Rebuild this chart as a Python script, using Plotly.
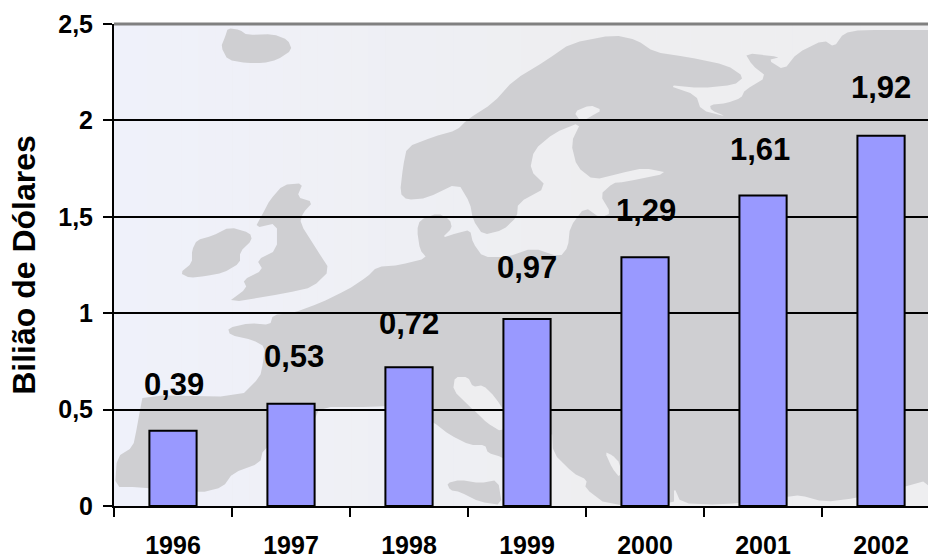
import plotly.graph_objects as go

# Chart data
years = ["1996", "1997", "1998", "1999", "2000", "2001", "2002"]
billions = [0.39, 0.53, 0.72, 0.97, 1.29, 1.61, 1.92]
y_ticks = [0, 0.5, 1, 1.5, 2, 2.5]
y_tick_labels = ["0", "0,5", "1", "1,5", "2", "2,5"]
y_title = "Bilião de Dólares"

WIDTH, HEIGHT = 928, 558
M_LEFT, M_TOP, M_BOTTOM = 114, 24, 52
FONT = "Liberation Sans, Arial, sans-serif"
LAND = "#cfcfd2"
SEA = "#eeeef0"

# Hand-placed nudges for the value labels, in pixels
LABEL_DX = [1, 3, 0, 0, 1, -3, 0]
LABEL_DY = [46, 47, 44, 51, 47, 46, 48]

# Backdrop map outlines, in page pixels
ICELAND = [(228,28),(240,30),(247,35),(273,34),(288,40),(292,50),(277,60),(263,63),
           (247,63),(228,60),(221,47),(225,37)]
IRELAND = [(197,240),(212,236),(230,227),(250,233),(252,240),(240,252),(240,263),(223,273),
           (205,276),(190,278),(180,273),(192,263),(192,250)]
BRITAIN = [(283,185),(303,183),(297,197),(313,202),(303,213),(300,223),(317,250),(330,270),
           (313,287),(287,293),(227,303),(247,288),(243,280),(263,270),(257,260),(277,250),
           (277,223),(255,228),(263,213),(270,200)]
MAINLAND = [(928,30),(861,30),(844,33),(834,47),(824,40),(797,53),(784,70),(768,60),(781,57),
            (745,53),(752,65),(767,77),(745,90),(741,98),(727,103),(710,105),(711,110),(727,117),
            (701,110),(696,95),(667,85),(701,88),(734,85),(744,77),(727,65),(687,57),(654,52),
            (637,40),(614,35),(571,43),(547,60),(514,80),(493,103),(467,120),(457,130),(433,137),
            (407,147),(403,167),(400,193),(407,200),(427,198),(458,183),(470,203),(473,220),
            (483,235),(503,230),(517,217),(518,203),(547,187),(530,170),(534,150),(554,133),
            (581,122),(571,143),(577,167),(594,180),(621,173),(644,168),(669,173),(624,182),
            (613,183),(600,195),(611,213),(600,218),(585,207),(570,227),(568,247),(560,257),
            (533,248),(507,257),(483,257),(473,243),(470,230),(457,233),(442,238),(452,228),
            (450,220),(438,213),(420,220),(417,230),(420,250),(427,258),(400,265),(377,267),
            (367,277),(347,290),(320,303),(293,313),(273,315),(270,325),(250,323),(228,328),
            (230,335),(253,340),(265,347),(263,363),(260,377),(240,397),(143,395),(140,410),
            (137,427),(133,447),(117,457),(115,487),(137,487),(200,493),(223,487),(233,473),
            (260,463),(263,450),(287,433),(313,423),(320,407),(373,407),(400,405),(433,422),
            (450,435),(470,445),(485,445),(488,453),(502,457),(520,470),(530,450),(552,430),
            (553,453),(573,473),(587,480),(585,488),(607,505),(674,505),(674,487),(681,503),
            (720,505),(787,497),(800,495),(824,502),(857,498),(904,487),(928,480),(928,506),
            (1000,506),(1000,30)]
SICILY = [(447,483),(460,480),(480,483),(498,480),(502,505),(480,502),(460,492),(450,490)]
BOTHNIA_HEAD = [(574,112),(590,105),(602,110),(590,117),(581,122)]
ADRIATIC = [(455,377),(468,377),(473,387),(483,385),(495,397),(510,420),(502,432),(487,423),
            (477,413),(470,407),(453,390)]
AEGEAN = [(605,452),(612,455),(620,463),(620,478),(612,468)]


def to_paper(px, py):
    plot_w = WIDTH - M_LEFT
    plot_h = HEIGHT - M_TOP - M_BOTTOM
    return (px - M_LEFT) / plot_w, (HEIGHT - M_BOTTOM - py) / plot_h


def soften(points):
    # One round of corner cutting so coastlines do not look faceted
    out = []
    n = len(points)
    for i in range(n):
        (x0, y0), (x1, y1) = points[i], points[(i + 1) % n]
        out.append((0.8 * x0 + 0.2 * x1, 0.8 * y0 + 0.2 * y1))
        out.append((0.2 * x0 + 0.8 * x1, 0.2 * y0 + 0.8 * y1))
    return out


def polygon(points, colour):
    coords = [to_paper(x, y) for x, y in soften(points)]
    path = "M " + " L ".join(f"{x:.4f},{y:.4f}" for x, y in coords) + " Z"
    return dict(type="path", path=path, xref="paper", yref="paper",
                fillcolor=colour, line_width=0, layer="below")


# Faint blue-to-grey wash behind the map
shapes = []
BANDS = 48
for i in range(BANDS):
    t = min(1.0, i / (BANDS - 1) / 0.6)
    r = round(239 - 1 * t)
    g = round(241 - 3 * t)
    b = round(250 - 10 * t)
    shapes.append(dict(type="rect", xref="paper", yref="paper", x0=i / BANDS, x1=(i + 1) / BANDS,
                       y0=0, y1=1, fillcolor=f"rgb({r},{g},{b})", line_width=0, layer="below"))

for land in (ICELAND, IRELAND, BRITAIN, MAINLAND, SICILY):
    shapes.append(polygon(land, LAND))
for water in (BOTHNIA_HEAD, ADRIATIC, AEGEAN):
    shapes.append(polygon(water, SEA))

# Grey rule closing the top of the plot area
shapes.append(dict(type="line", xref="paper", yref="paper", x0=0, x1=1, y0=1, y1=1,
                   line=dict(color="#808080", width=3), layer="between"))

fig = go.Figure(go.Bar(
    x=years, y=billions, width=0.4,
    marker=dict(color="#9999ff", line=dict(color="black", width=2)),
    hoverinfo="skip",
))

# Value labels float well above each bar; category positions are given by index
for position, value in enumerate(billions):
    fig.add_annotation(x=position, y=value, text=f"{value:.2f}".replace(".", ","), showarrow=False,
                       yanchor="middle", xshift=LABEL_DX[position], yshift=LABEL_DY[position],
                       font=dict(family=FONT, size=31, color="black", weight="bold"))

fig.update_layout(
    width=WIDTH, height=HEIGHT, autosize=False,
    margin=dict(l=M_LEFT, r=0, t=M_TOP, b=M_BOTTOM, pad=0),
    paper_bgcolor="white", plot_bgcolor="#eeeef2",
    font=dict(family=FONT, color="black"),
    shapes=shapes, showlegend=False,
)
fig.update_xaxes(
    type="category", categoryorder="array", categoryarray=years,
    range=[-0.5, 6.398], tickson="boundaries",
    ticks="outside", ticklen=9, tickwidth=2, tickcolor="black",
    showline=True, linecolor="black", linewidth=2, showgrid=False, zeroline=False,
    tickfont=dict(family=FONT, size=25, weight="bold"), ticklabelstandoff=16, automargin=False,
)
fig.update_yaxes(
    range=[0, 2.5], tickmode="array", tickvals=y_ticks, ticktext=y_tick_labels,
    ticks="outside", ticklen=9, tickwidth=2, tickcolor="black",
    showline=True, linecolor="black", linewidth=2,
    showgrid=True, gridcolor="black", gridwidth=2, zeroline=False,
    tickfont=dict(family=FONT, size=25, weight="bold"), ticklabelstandoff=5, automargin=False,
    title=dict(text=y_title, font=dict(family=FONT, size=32, weight="bold"), standoff=13),
)

fig.write_html("out.html", config=dict(displayModeBar=False))
